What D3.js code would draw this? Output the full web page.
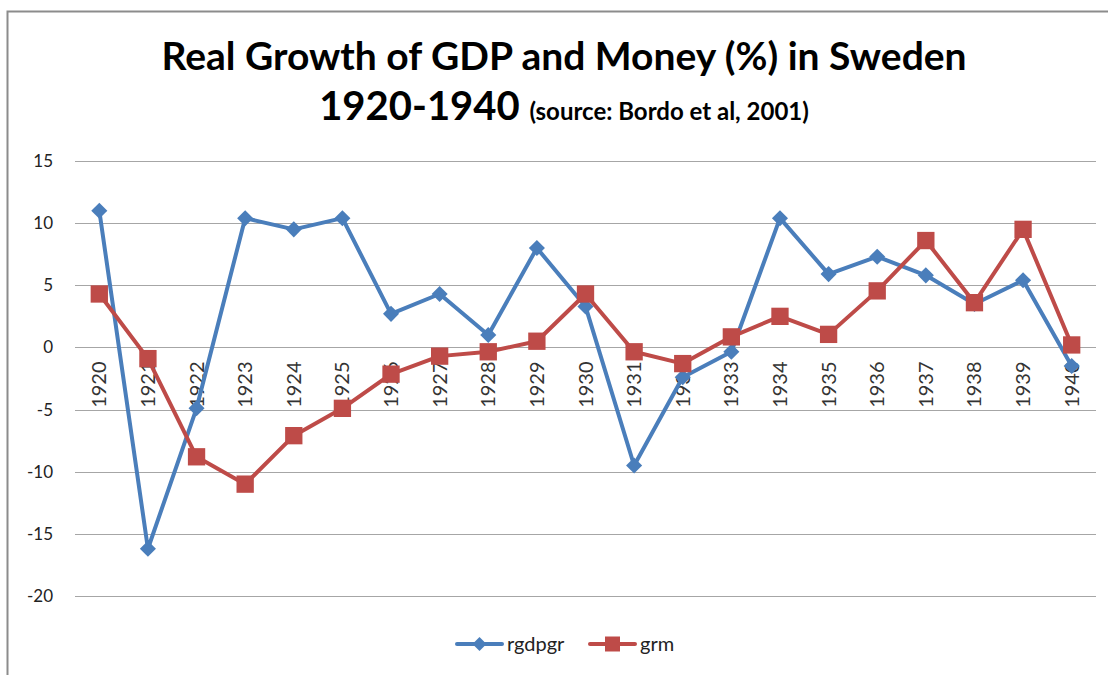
<!DOCTYPE html>
<html>
<head>
<meta charset="utf-8">
<script src="https://cdn.jsdelivr.net/npm/d3@7"></script>
<style>
  body { margin: 0; background: #fff; }
  text { font-family: Lato, "Open Sans", sans-serif; }
</style>
</head>
<body>
<div class="chart"></div>
<script>
const width = 1108, height = 675;

const years = ["1920","1921","1922","1923","1924","1925","1926","1927","1928","1929","1930",
               "1931","1932","1933","1934","1935","1936","1937","1938","1939","1940"];
const rgdpgr = [11.0, -16.2, -4.9, 10.4, 9.5, 10.4, 2.7, 4.3, 1.0, 8.0, 3.3,
                -9.5, -2.4, -0.35, 10.4, 5.9, 7.3, 5.8, 3.5, 5.4, -1.5];
const grm = [4.3, -0.9, -8.8, -11.0, -7.1, -4.9, -2.15, -0.7, -0.35, 0.5, 4.3,
             -0.35, -1.3, 0.85, 2.5, 1.05, 4.55, 8.6, 3.6, 9.5, 0.2];
const yTicks = [15, 10, 5, 0, -5, -10, -15, -20];

const series = [
    {name: "rgdpgr", values: rgdpgr, color: "#4a7ebb", shape: d3.symbolDiamond2, size: 165},
    {name: "grm", values: grm, color: "#be4b48", shape: d3.symbolSquare, size: 300}
];

const svg = d3.select(".chart")
    .append("svg")
    .attr("width", width)
    .attr("height", height);

// chart frame
svg.append("path")
    .attr("d", "M7.5," + height + "V11.5H" + width)
    .attr("fill", "none")
    .attr("stroke", "#8c8c8c")
    .attr("stroke-width", 2);

// title
svg.append("text")
    .attr("x", 564)
    .attr("y", 70)
    .attr("text-anchor", "middle")
    .attr("font-weight", "bold")
    .attr("font-size", 39)
    .attr("fill", "#000")
    .text("Real Growth of GDP and Money (%) in Sweden");

const sub = svg.append("text")
    .attr("x", 564)
    .attr("y", 120)
    .attr("text-anchor", "middle")
    .attr("font-weight", "bold")
    .attr("fill", "#000");
sub.append("tspan").attr("font-size", 40).text("1920-1940 ");
sub.append("tspan").attr("font-size", 24).text("(source: Bordo et al, 2001)");

const x = d3.scalePoint()
    .domain(years)
    .range([75, 1096])
    .padding(0.5);

const y = d3.scaleLinear()
    .domain([-20, 15])
    .range([596, 161]);

// gridlines
svg.append("g")
    .selectAll("line")
    .data(yTicks)
    .join("line")
    .attr("x1", 75)
    .attr("x2", 1096)
    .attr("y1", d => Math.round(y(d)) + 0.5)
    .attr("y2", d => Math.round(y(d)) + 0.5)
    .attr("stroke", "#a6a6a6")
    .attr("stroke-width", 1.2);

// y axis labels
svg.append("g")
    .selectAll("text")
    .data(yTicks)
    .join("text")
    .attr("x", 53)
    .attr("y", d => y(d))
    .attr("dy", "0.35em")
    .attr("text-anchor", "end")
    .attr("font-size", 17)
    .attr("fill", "#222")
    .text(d => d);

// x axis labels (rotated)
svg.append("g")
    .selectAll("text")
    .data(years)
    .join("text")
    .attr("transform", d => "translate(" + x(d) + "," + (y(0) + 14) + ") rotate(-90)")
    .attr("dy", "0.35em")
    .attr("text-anchor", "end")
    .attr("font-size", 20)
    .attr("fill", "#333")
    .text(d => d);

const line = d3.line()
    .x((d, i) => x(years[i]))
    .y(d => y(d));

series.forEach(s => {
    const g = svg.append("g");
    g.append("path")
        .datum(s.values)
        .attr("d", line)
        .attr("fill", "none")
        .attr("stroke", s.color)
        .attr("stroke-width", 4)
        .attr("stroke-linejoin", "round");
    g.selectAll("path.marker")
        .data(s.values)
        .join("path")
        .attr("class", "marker")
        .attr("transform", (d, i) => "translate(" + x(years[i]) + "," + y(d) + ")")
        .attr("d", d3.symbol().type(s.shape).size(s.size))
        .attr("fill", s.color);
});

// legend
const legend = svg.append("g");
const legendPos = [457, 590];
series.forEach((s, i) => {
    const lg = legend.append("g").attr("transform", "translate(" + legendPos[i] + ",644)");
    lg.append("line")
        .attr("x1", 0).attr("x2", 45)
        .attr("stroke", s.color)
        .attr("stroke-width", 4)
        .attr("stroke-linecap", "round");
    lg.append("path")
        .attr("transform", "translate(22.5,0)")
        .attr("d", d3.symbol().type(s.shape).size(s.size * 0.75))
        .attr("fill", s.color);
    lg.append("text")
        .attr("x", 50)
        .attr("dy", "0.35em")
        .attr("font-size", 20)
        .attr("fill", "#222")
        .text(s.name);
});
</script>
</body>
</html>
